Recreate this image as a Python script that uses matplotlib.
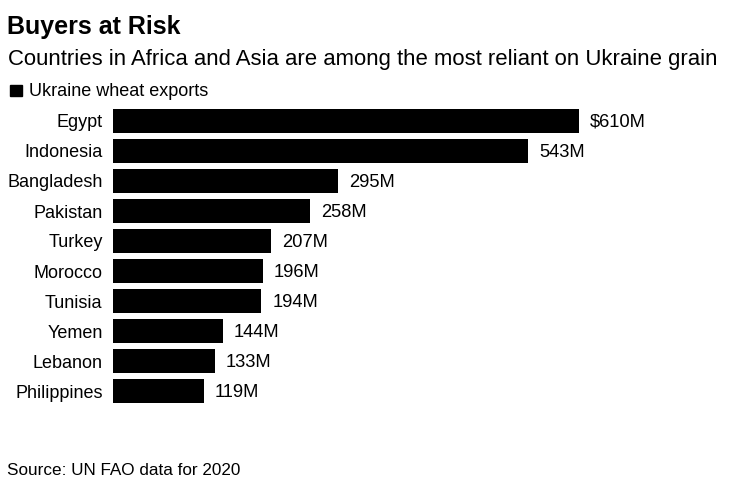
import matplotlib.pyplot as plt
from matplotlib.patches import Rectangle

plt.rcParams['font.family'] = ['Liberation Sans', 'DejaVu Sans']

countries = ["Egypt", "Indonesia", "Bangladesh", "Pakistan", "Turkey",
             "Morocco", "Tunisia", "Yemen", "Lebanon", "Philippines"]
exports = [610, 543, 295, 258, 207, 196, 194, 144, 133, 119]
value_labels = ["$610M", "543M", "295M", "258M", "207M",
                "196M", "194M", "144M", "133M", "119M"]

W, H = 739, 484
fig = plt.figure(figsize=(W / 100, H / 100), dpi=100)

# axes: x=0 at px 113, 610 at px 579; rows 30 px apart starting at 121
xmax = 700
ax_w = 466 / 610 * xmax
ax = fig.add_axes([113 / W, 1 - 406 / H, ax_w / W, 300 / H])
y = list(range(len(countries)))
ax.barh(y, exports, height=0.77, color='black')
ax.set_xlim(0, xmax)
ax.set_ylim(len(countries) - 0.5, -0.5)
ax.set_yticks(y)
ax.set_yticklabels(countries, fontsize=13)
ax.tick_params(axis='y', length=0, pad=7.5)
ax.set_xticks([])
for s in ax.spines.values():
    s.set_visible(False)

for yi, v, lab in zip(y, exports, value_labels):
    ax.annotate(lab, (v, yi), xytext=(8, -1), textcoords='offset points',
                va='center', ha='left', fontsize=13.2)

fig.text(7 / W, 1 - 34 / H, "Buyers at Risk", fontsize=18, fontweight='bold',
         va='baseline', ha='left')
fig.text(8 / W, 1 - 65 / H,
         "Countries in Africa and Asia are among the most reliant on Ukraine grain",
         fontsize=15.9, va='baseline', ha='left')
fig.patches.append(Rectangle((10 / W, 1 - 96 / H), 12 / W, 11 / H,
                             transform=fig.transFigure, color='black'))
fig.text(29 / W, 1 - 96 / H, "Ukraine wheat exports", fontsize=13,
         va='baseline', ha='left')
fig.text(7 / W, 1 - 475 / H, "Source: UN FAO data for 2020", fontsize=12.3,
         va='baseline', ha='left')

fig.savefig("out.png", dpi=100)
